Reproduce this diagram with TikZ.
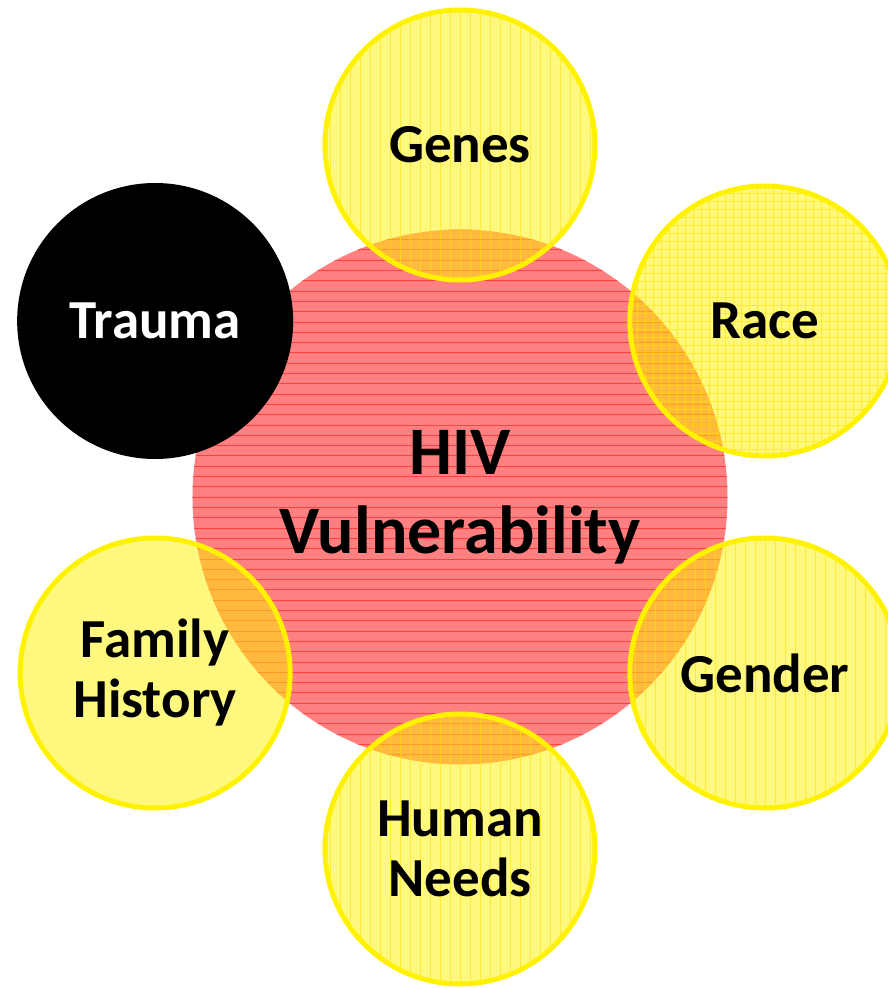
\documentclass[tikz,border=0pt]{standalone}
\usepackage{fontspec}
\setmainfont{Carlito}

\tikzset{
  core/.style={circle, fill=red!50, minimum size=535pt, inner sep=0pt, align=center,
    font=\bfseries\fontsize{68}{79}\selectfont,
    path picture={\foreach \k in {-26,...,26}
      \draw[red!75, line width=0.6pt] ([yshift=\k*10.3pt]path picture bounding box.west) -- ([yshift=\k*10.3pt]path picture bounding box.east);}},
  factor/.style={circle, draw=yellow, line width=5pt, fill=yellow, fill opacity=0.5, text opacity=1,
    minimum size=270pt, inner sep=0pt, align=center, font=\bfseries\fontsize{55}{60}\selectfont},
  vlines/.style={path picture={\foreach \k in {-14,...,14}
      \draw[yellow!85!orange, line width=0.6pt, draw opacity=0.6] ([xshift=\k*10pt]path picture bounding box.south) -- ([xshift=\k*10pt]path picture bounding box.north);}},
  gridlines/.style={path picture={\foreach \k in {-17,...,17} {
      \draw[yellow!85!orange, line width=0.6pt, draw opacity=0.6] ([xshift=\k*8pt]path picture bounding box.south) -- ([xshift=\k*8pt]path picture bounding box.north);
      \draw[yellow!85!orange, line width=0.6pt, draw opacity=0.6] ([yshift=\k*8pt]path picture bounding box.west) -- ([yshift=\k*8pt]path picture bounding box.east);}}},
  dark/.style={circle, fill=black, text=white, minimum size=276pt, inner sep=0pt,
    font=\bfseries\fontsize{55}{60}\selectfont}
}

\begin{document}
\begin{tikzpicture}[x=1pt,y=1pt]
\useasboundingbox (-460,-491) rectangle (428,497);
\node[core] (hiv) at (0,0) {HIV\\Vulnerability};
\node[dark] (trauma) at (150:352) {Trauma};
\node[factor, vlines] (genes) at (90:352) {Genes};
\node[factor, gridlines] (race) at (30:352) {Race};
\node[factor, vlines] (gender) at (-30:352) {Gender};
\node[factor, vlines] (needs) at (-90:352) {Human\\Needs};
\node[factor] (family) at (210:352) {Family\\History};
\end{tikzpicture}
\end{document}
